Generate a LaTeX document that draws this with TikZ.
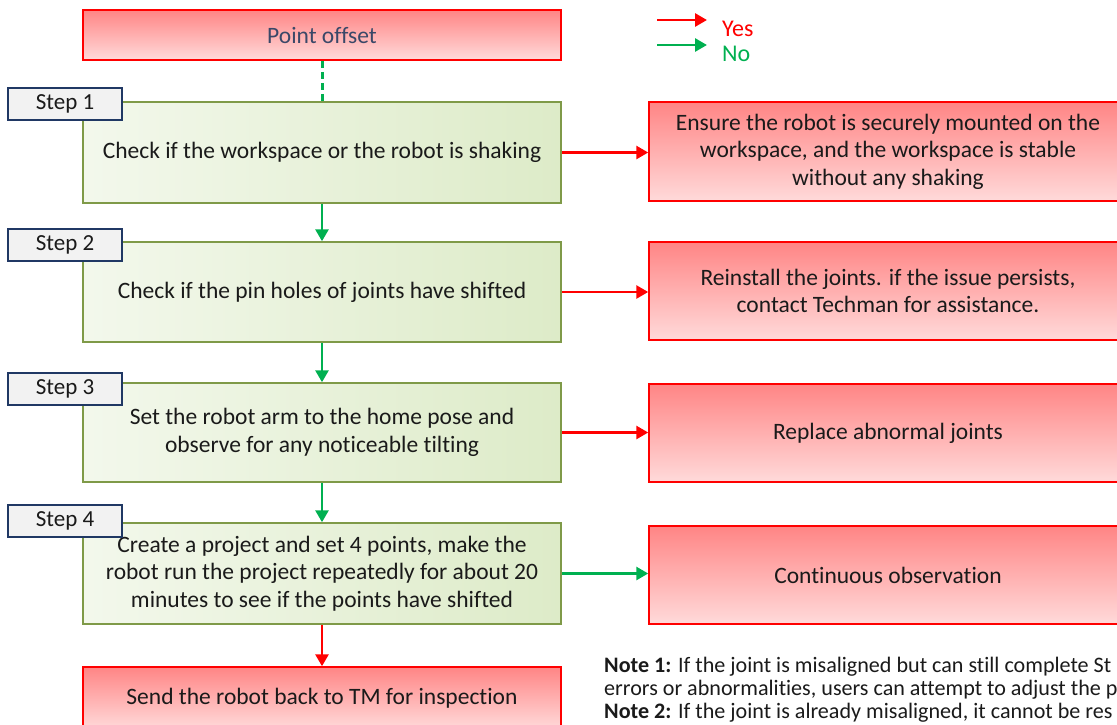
\documentclass[tikz,border=0pt]{standalone}
\usepackage{fontspec}
\setmainfont{Carlito}[Ligatures=NoCommon]
\usetikzlibrary{arrows.meta}
\definecolor{rd}{HTML}{FF0000}
\definecolor{gn}{HTML}{00B050}
\definecolor{olive}{HTML}{7F9A48}
\definecolor{navy}{HTML}{203864}
\definecolor{ptxt}{HTML}{3A4868}
\definecolor{txt}{HTML}{1A1A1A}
\definecolor{rtop}{HTML}{FF8585}
\definecolor{rbot}{HTML}{FFDADA}
\definecolor{gleft}{HTML}{F3F8EC}
\definecolor{gright}{HTML}{DDEBC8}
\definecolor{lgray}{HTML}{F2F2F2}
\begin{document}
\begin{tikzpicture}[x=1pt,y=-1pt,
  redbox/.style={draw=rd, line width=1.5pt, top color=rtop, bottom color=rbot,
    minimum width=478pt, text=txt, font=\fontsize{23.5}{27.5}\selectfont, align=center, inner sep=0pt},
  greenbox/.style={draw=olive, line width=1.5pt, left color=gleft, right color=gright,
    minimum width=478pt, text=txt, font=\fontsize{23.5}{27.5}\selectfont, align=center, inner sep=0pt},
  steplabel/.style={draw=navy, line width=1.5pt, fill=lgray, minimum width=114pt,
    minimum height=32pt, text=txt, font=\fontsize{23}{26}\selectfont, inner sep=0pt},
  ya/.style={draw=rd, line width=2.8pt, -{Triangle[length=12pt,width=13pt]}},
  na/.style={draw=gn, line width=2.8pt, -{Triangle[length=12pt,width=13pt]}},
  notefont/.style={font=\fontsize{22.1}{23}\selectfont, text=txt, anchor=base west, inner sep=0pt}
]
\useasboundingbox (0,0) rectangle (1117,724);
\clip (0,0) rectangle (1117,724);

% top box
\node[redbox, minimum height=50pt, text=ptxt] (p0) at (322,35) {Point offset};

% step boxes
\node[greenbox, minimum height=101pt] (s1) at (322,152.5) {Check if the workspace or the robot is shaking};
\node[greenbox, minimum height=100pt] (s2) at (322,292) {Check if the pin holes of joints have shifted};
\node[greenbox, minimum height=99pt] (s3) at (322,432.5) {Set the robot arm to the home pose and\\observe for any noticeable tilting};
\node[greenbox, minimum height=101pt] (s4) at (322,573.5) {Create a project and set 4 points, make the\\robot run the project repeatedly for about 20\\minutes to see if the points have shifted};

% final box
\node[redbox, minimum height=62pt] (fin) at (322,698) {Send the robot back to TM for inspection};

% right boxes
\node[redbox, minimum height=99pt] (r1) at (888,151.5) {Ensure the robot is securely mounted on the\\workspace, and the workspace is stable\\without any shaking};
\node[redbox, minimum height=98pt] (r2) at (888,291) {Reinstall the joints. if the issue persists,\\contact Techman for assistance.};
\node[redbox, minimum height=98pt] (r3) at (888,433) {Replace abnormal joints};
\node[redbox, minimum height=98pt] (r4) at (888,575) {Continuous observation};

% step labels
\node[steplabel] (l1) at (65,104) {Step 1};
\node[steplabel] (l2) at (65,245) {Step 2};
\node[steplabel] (l3) at (65,389) {Step 3};
\node[steplabel] (l4) at (65,521) {Step 4};

% vertical connectors
\draw[gn, line width=3pt, dash pattern=on 7pt off 4pt] (p0.south) -- (s1.north);
\draw[na] (s1.south) -- (s2.north);
\draw[na] (s2.south) -- (s3.north);
\draw[na] (s3.south) -- (s4.north);
\draw[ya] (s4.south) -- (fin.north);

% horizontal connectors
\draw[ya] (s1.east) -- (s1.east -| r1.west);
\draw[ya] (s2.east) -- (s2.east -| r2.west);
\draw[ya] (s3.east) -- (s3.east -| r3.west);
\draw[na] (s4.east) -- (s4.east -| r4.west);

% legend
\coordinate (ly1) at (657,20);
\coordinate (ly2) at (707,20);
\coordinate (ln1) at (657,45);
\coordinate (ln2) at (707,45);
\draw[ya] (ly1) -- (ly2);
\draw[na] (ln1) -- (ln2);
\node[anchor=west, inner sep=0pt, text=rd, font=\fontsize{24}{28}\selectfont] (lyes) at (722,29) {Yes};
\node[anchor=west, inner sep=0pt, text=gn, font=\fontsize{24}{28}\selectfont] (lno) at (722,54) {No};

% notes
\node[notefont] (n1) at (604,672) {\textbf{Note 1:} If the joint is misaligned but can still complete St};
\node[notefont] (n2) at (604,695) {errors or abnormalities, users can attempt to adjust the p};
\node[notefont] (n3) at (604,718) {\textbf{Note 2:} If the joint is already misaligned, it cannot be res};
\end{tikzpicture}
\end{document}
